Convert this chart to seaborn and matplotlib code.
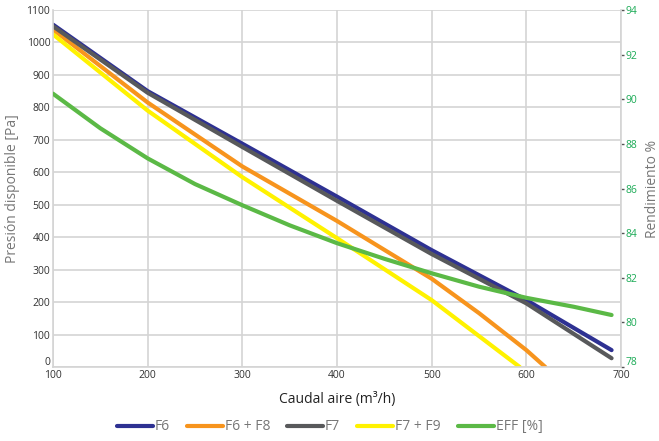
import matplotlib
matplotlib.use("Agg")
import matplotlib.pyplot as plt
import matplotlib.transforms as mtransforms
import seaborn as sns

# Datos (caudal en m3/h, presion en Pa, rendimiento en %)
caudal_f6 = [100, 200, 300, 400, 500, 600, 690]
presion_f6 = [1055, 850, 688, 525, 360, 206, 52]

caudal_f6_f8 = [100, 200, 300, 400, 500, 550, 600, 620]
presion_f6_f8 = [1040, 815, 618, 450, 272, 166, 52, 0]

caudal_f7 = [100, 200, 300, 400, 500, 600, 690]
presion_f7 = [1050, 845, 678, 512, 348, 196, 27]

caudal_f7_f9 = [100, 200, 300, 400, 500, 593]
presion_f7_f9 = [1025, 790, 585, 397, 206, 0]

caudal_eff = [100, 150, 200, 250, 300, 350, 400, 450, 500, 550, 600, 650, 690]
rendimiento = [90.25, 88.7, 87.35, 86.2, 85.25, 84.35, 83.55, 82.85, 82.2, 81.6, 81.1, 80.7, 80.33]

x_ticks = [100, 200, 300, 400, 500, 600, 700]
y_ticks = list(range(0, 1200, 100))
y2_ticks = list(range(78, 96, 2))

sns.set_style("white")
plt.rcParams["font.family"] = ["Open Sans", "DejaVu Sans"]

fig = plt.figure(figsize=(6.59, 4.41), dpi=100)
ax = fig.add_axes([0.0804, 0.1678, 0.862, 0.8095])

grid_col = "#d4d4d4"
lw = 3.0

sns.lineplot(x=caudal_f6, y=presion_f6, ax=ax, color="#2e3192", lw=lw, label="F6")
sns.lineplot(x=caudal_f6_f8, y=presion_f6_f8, ax=ax, color="#f7941d", lw=lw, label="F6 + F8")
sns.lineplot(x=caudal_f7, y=presion_f7, ax=ax, color="#58595b", lw=lw, label="F7")
sns.lineplot(x=caudal_f7_f9, y=presion_f7_f9, ax=ax, color="#fff200", lw=lw, label="F7 + F9")

ax.set_xlim(100, 700)
ax.set_ylim(0, 1100)
ax.set_xticks(x_ticks)
ax.set_yticks(y_ticks)
ax.grid(True, color=grid_col, lw=1.2)
ax.tick_params(axis="both", length=0, labelsize=7.5, colors="#333333", pad=2)
for s in ["top", "right"]:
    ax.spines[s].set_visible(False)
for s in ["left", "bottom"]:
    ax.spines[s].set_color(grid_col)
    ax.spines[s].set_linewidth(1.2)
ax.set_xlabel("Caudal aire (m³/h)", fontsize=10, color="#222222", labelpad=8)
ax.set_ylabel("Presión disponible [Pa]", fontsize=10, color="#777777", labelpad=5)

ax2 = ax.twinx()
sns.lineplot(x=caudal_eff, y=rendimiento, ax=ax2, color="#5bb946", lw=lw, label="EFF [%]")
ax2.set_ylim(78, 94)
ax2.set_yticks(y2_ticks)
ax2.tick_params(axis="y", length=2, width=1, colors="#555555", labelcolor="#1aaa55", labelsize=7.5, pad=1.5)
for s in ["top", "left", "bottom"]:
    ax2.spines[s].set_visible(False)
ax2.spines["right"].set_color(grid_col)
ax2.spines["right"].set_linewidth(1.2)
ax2.set_ylabel("Rendimiento %", fontsize=10, color="#777777", labelpad=5)

# el "0" y el "78" quedan algo por encima de la esquina, como en el original
fig.canvas.draw()
up = mtransforms.ScaledTranslation(0, 4 / 72, fig.dpi_scale_trans)
ax.get_yticklabels()[0].set_transform(ax.get_yticklabels()[0].get_transform() + up)
ax2.get_yticklabels()[0].set_transform(ax2.get_yticklabels()[0].get_transform() + up)

h1, l1 = ax.get_legend_handles_labels()
h2, l2 = ax2.get_legend_handles_labels()
ax.get_legend().remove()
ax2.get_legend().remove()
for h in h1 + h2:
    h.set_solid_capstyle("round")
leg = fig.legend(h1 + h2, l1 + l2, loc="center", bbox_to_anchor=(0.5, 0.032), ncol=5,
                 frameon=False, fontsize=10, handlelength=2.6, handletextpad=0.15,
                 columnspacing=1.2)
for t in leg.get_texts():
    t.set_color("#777777")

fig.savefig("out.png", dpi=100)
